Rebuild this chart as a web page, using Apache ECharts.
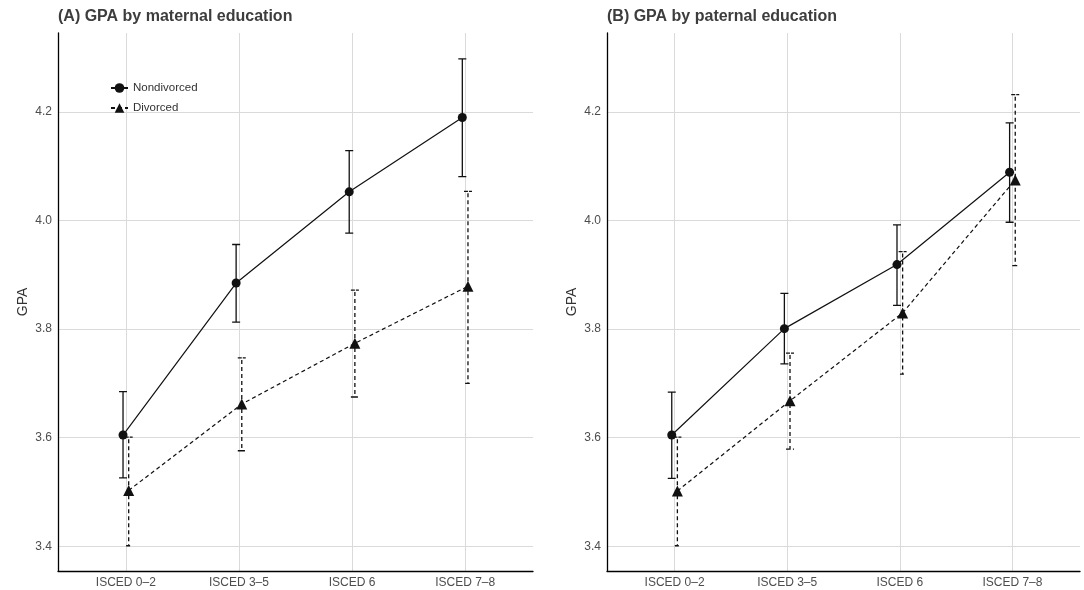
<!DOCTYPE html>
<html>
<head>
<meta charset="utf-8">
<script src="https://cdn.jsdelivr.net/npm/echarts@6/dist/echarts.min.js"></script>
<style>
html, body { margin: 0; padding: 0; background: #fff; }
#container { width: 1084px; height: 590px; }
</style>
</head>
<body>
<div id="container"></div>
<script>
let categories = ['ISCED 0–2', 'ISCED 3–5', 'ISCED 6', 'ISCED 7–8'];
let yTicks = [3.4, 3.6, 3.8, 4.0, 4.2];
let groups = ['Nondivorced', 'Divorced'];

// (A) maternal education
let matNonMean = [3.605, 3.885, 4.053, 4.190];
let matNonLow = [3.526, 3.813, 3.977, 4.081];
let matNonHigh = [3.685, 3.956, 4.129, 4.298];
let matDivMean = [3.503, 3.662, 3.774, 3.879];
let matDivLow = [3.401, 3.576, 3.675, 3.700];
let matDivHigh = [3.601, 3.747, 3.872, 4.054];

// (B) paternal education
let patNonMean = [3.605, 3.801, 3.919, 4.089];
let patNonLow = [3.525, 3.736, 3.844, 3.997];
let patNonHigh = [3.684, 3.866, 3.992, 4.180];
let patDivMean = [3.502, 3.668, 3.830, 4.075];
let patDivLow = [3.401, 3.579, 3.717, 3.917];
let patDivHigh = [3.601, 3.756, 3.943, 4.232];

let dodge = 0.025;
let font = 'Liberation Sans, Arial, Helvetica, sans-serif';
let ink = '#111';

function points(mean, shift) {
    let out = [];
    for (let i = 0; i < mean.length; i++) {
        out.push([i + shift, mean[i]]);
    }
    return out;
}

function bars(low, high, shift) {
    let out = [];
    for (let i = 0; i < low.length; i++) {
        out.push([i + shift, low[i], high[i]]);
    }
    return out;
}

function errorBar(dashed) {
    return function (params, api) {
        let lo = api.coord([api.value(0), api.value(1)]);
        let hi = api.coord([api.value(0), api.value(2)]);
        let x = lo[0];
        let w = 4;
        return {
            type: 'polyline',
            shape: {
                points: [[x - w, hi[1]], [x + w, hi[1]], [x, hi[1]], [x, lo[1]], [x - w, lo[1]], [x + w, lo[1]]]
            },
            style: {
                stroke: ink,
                fill: null,
                lineWidth: 1.3,
                lineDash: dashed ? [4, 3] : null
            }
        };
    };
}

function xAxis(idx) {
    return {
        type: 'value', gridIndex: idx, min: -0.6, max: 3.6,
        axisLine: { show: true, onZero: false, lineStyle: { color: '#000', width: 1.3 } },
        axisTick: { show: false, customValues: [0, 1, 2, 3] },
        axisLabel: {
            customValues: [0, 1, 2, 3], margin: 6,
            color: '#4d4d4d', fontSize: 12, fontFamily: font,
            formatter: function (v) { return categories[Math.round(v)]; }
        },
        splitLine: { show: true, lineStyle: { color: '#dadada', width: 1 } }
    };
}

function yAxis(idx) {
    return {
        type: 'value', gridIndex: idx, min: 3.3545, max: 4.3456,
        name: 'GPA', nameLocation: 'middle', nameGap: 28,
        nameTextStyle: { color: '#333', fontSize: 14, fontFamily: font },
        axisLine: { show: true, onZero: false, lineStyle: { color: '#000', width: 1.3 } },
        axisTick: { show: false, customValues: yTicks },
        axisLabel: {
            customValues: yTicks, margin: 6,
            color: '#4d4d4d', fontSize: 12, fontFamily: font,
            formatter: function (v) { return v.toFixed(1); }
        },
        splitLine: { show: true, lineStyle: { color: '#dadada', width: 1 } }
    };
}

function panelSeries(idx, nonMean, nonLow, nonHigh, divMean, divLow, divHigh) {
    return [
        {
            type: 'custom', xAxisIndex: idx, yAxisIndex: idx, z: 2,
            renderItem: errorBar(false), data: bars(nonLow, nonHigh, -dodge)
        },
        {
            type: 'custom', xAxisIndex: idx, yAxisIndex: idx, z: 2,
            renderItem: errorBar(true), data: bars(divLow, divHigh, dodge)
        },
        {
            name: groups[0], type: 'line', xAxisIndex: idx, yAxisIndex: idx, z: 3,
            data: points(nonMean, -dodge), symbol: 'circle', symbolSize: 9,
            lineStyle: { color: ink, width: 1.2 }, itemStyle: { color: ink }
        },
        {
            name: groups[1], type: 'line', xAxisIndex: idx, yAxisIndex: idx, z: 3,
            data: points(divMean, dodge), symbol: 'triangle', symbolSize: 11,
            lineStyle: { color: ink, width: 1.2, type: [4, 3] }, itemStyle: { color: ink }
        }
    ];
}

let option = {
    animation: false,
    backgroundColor: '#fff',
    title: [
        {
            text: '(A) GPA by maternal education', left: 58, top: 9, padding: 0,
            textStyle: { fontSize: 16, fontWeight: 'bold', color: '#3d3d3d', fontFamily: font }
        },
        {
            text: '(B) GPA by paternal education', left: 607, top: 9, padding: 0,
            textStyle: { fontSize: 16, fontWeight: 'bold', color: '#3d3d3d', fontFamily: font }
        }
    ],
    legend: {
        data: groups, orient: 'vertical', left: 110, top: 82, padding: 0,
        itemWidth: 17, itemHeight: 12, itemGap: 8,
        textStyle: { color: '#333', fontSize: 11.5, fontFamily: font }
    },
    grid: [
        { left: 58, top: 33, width: 475, height: 538 },
        { left: 607, top: 33, width: 473, height: 538 }
    ],
    xAxis: [xAxis(0), xAxis(1)],
    yAxis: [yAxis(0), yAxis(1)],
    series: panelSeries(0, matNonMean, matNonLow, matNonHigh, matDivMean, matDivLow, matDivHigh)
        .concat(panelSeries(1, patNonMean, patNonLow, patNonHigh, patDivMean, patDivLow, patDivHigh))
};

let myChart = echarts.init(document.getElementById('container'));
myChart.setOption(option);
</script>
</body>
</html>
